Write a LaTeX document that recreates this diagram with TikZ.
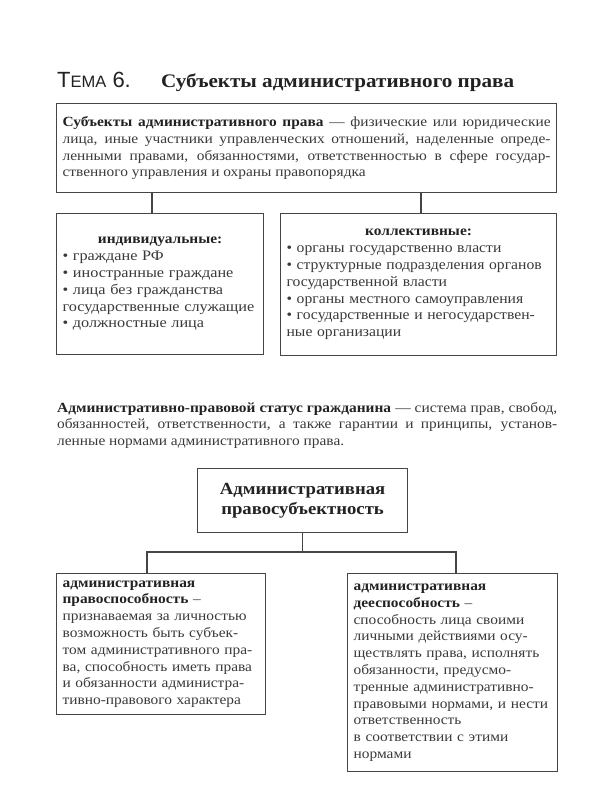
\documentclass[tikz,border=0pt]{standalone}
\usepackage{fontspec}
\setmainfont[FakeStretch=1.1]{Liberation Serif}
\newfontfamily\titlesans{Liberation Sans}
\definecolor{txt}{HTML}{3A3A3A}
\definecolor{boxc}{HTML}{454545}
\definecolor{titc}{HTML}{222222}
\newcommand\bodyf{\fontsize{14}{16.8}\selectfont}
\newcommand\listf{\fontsize{14.5}{16.5}\selectfont\addfontfeature{FakeStretch=1.12}}
\newcommand\listg{\fontsize{14.5}{16.5}\selectfont\addfontfeature{FakeStretch=1.08}}
\tikzset{
  box/.style={draw=boxc, line width=1.2pt, inner xsep=6pt, inner ysep=2pt, anchor=north west, text=txt, font=\bodyf},
  conn/.style={draw=boxc, line width=1.2pt},
}
\begin{document}
\begin{tikzpicture}[x=1pt,y=-1pt]
\useasboundingbox (0,0) rectangle (600,800);
\fill[white] (0,0) rectangle (600,800);

% title
\node[anchor=base west, inner sep=0, text=titc, font=\titlesans\fontsize{22}{22}\selectfont] (tema) at (57,88) {Т{\fontsize{16.5}{16.5}\selectfont ЕМА} 6.};
\node[anchor=base west, inner sep=0, text=titc, font=\bfseries\fontsize{19.2}{19.2}\selectfont] (title) at (161,88) {Субъекты административного права};

% top definition
\node[box, align=justify, text width=488pt, minimum height=89pt] (b1) at (56,103)
{\rightskip=10pt\relax
\textbf{\color{titc}Субъекты административного права} — физические или юридические\linebreak
лица, иные участники управленческих отношений, наделенные опреде-\linebreak
ленными правами, обязанностями, ответственностью в сфере государ-\linebreak
ственного управления и охраны правопорядка};

\node[box, align=left, text width=195pt, minimum height=141pt] (b2) at (56,213)
{\hbox to\hsize{\hfil\textbf{\color{titc}индивидуальные:}\hfil}\\
\mbox{\listf • граждане РФ}\\
\mbox{\listf • иностранные граждане}\\
\mbox{\listf • лица без гражданства}\\
\mbox{\listf государственные служащие}\\
\mbox{\listf • должностные лица}};

\node[box, align=left, text width=264pt, minimum height=142pt] (b3) at (280,213)
{\hbox to\hsize{\hfil\textbf{\color{titc}коллективные:}\hfil}\\
\mbox{\listg • органы государственно власти}\\
\mbox{\listg • структурные подразделения органов}\\
\mbox{\listg государственной власти}\\
\mbox{\listg • органы местного самоуправления}\\
\mbox{\listg • государственные и негосударствен-}\\
\mbox{\listg ные организации}};

\coordinate (j1) at (152,200);
\coordinate (j2) at (421,200);
\draw[conn] (b1.south -| j1) -- (b2.north -| j1);
\draw[conn] (b1.south -| j2) -- (b3.north -| j2);

% paragraph
\node[anchor=base west, inner sep=0, align=justify, text width=500pt, text=txt, font=\bodyf] (para) at (57,412)
{\textbf{\color{titc}Административно-правовой статус гражданина} — система прав, свобод,\linebreak
обязанностей, ответственности, а также гарантии и принципы, установ-\linebreak
ленные нормами административного права.};

% bottom tree
\node[box, align=center, text width=198pt, minimum height=64pt, font=\bfseries\fontsize{17}{20.5}\selectfont, text=titc] (b4) at (197,468)
{Административная\\правосубъектность};

\node[box, align=left, text width=197pt, minimum height=141pt] (b5) at (56,573)
{\textbf{\color{titc}административная}\\
\textbf{\color{titc}правоспособность} –\\
признаваемая за личностью\\
возможность быть субъек-\\
том административного пра-\\
ва, способность иметь права\\
и обязанности администра-\\
тивно-правового характера};

\node[box, align=left, text width=198pt, minimum height=198pt] (b6) at (347,573)
{\textbf{\color{titc}административная}\\
\textbf{\color{titc}дееспособность} –\\
способность лица своими\\
личными действиями осу-\\
ществлять права, исполнять\\
обязанности, предусмо-\\
тренные административно-\\
правовыми нормами, и нести\\
ответственность\\
в соответствии с этими\\
нормами};

\coordinate (hl) at (147,552);
\coordinate (hr) at (456,552);
\draw[conn] (b4.south) -- (b4.south |- hl);
\draw[conn] (b5.north -| hl) -- (hl) -- (hr) -- (b6.north -| hr);
\end{tikzpicture}
\end{document}
